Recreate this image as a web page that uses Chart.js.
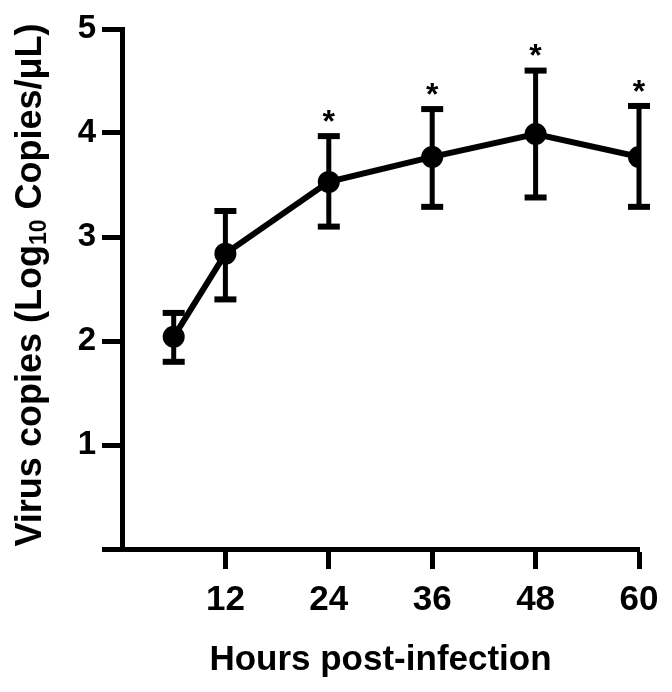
<!DOCTYPE html>
<html>
<head>
<meta charset="utf-8">
<script src="https://cdn.jsdelivr.net/npm/chart.js@4.4.1/dist/chart.umd.min.js"></script>
<style>
html,body{margin:0;padding:0;background:#fff;}
#wrap{width:672px;height:692px;}
</style>
</head>
<body>
<div id="wrap"><canvas id="virusChart"></canvas></div>
<script>
// hours post-infection and mean virus copies (log10 copies/uL)
let hours = [6, 12, 24, 36, 48, 60];
let meanCopies = [2.04, 2.84, 3.53, 3.77, 3.99, 3.77];
let upperCopies = [2.27, 3.25, 3.97, 4.23, 4.60, 4.26];
let lowerCopies = [1.80, 2.40, 3.10, 3.29, 3.38, 3.29];
let significant = [false, false, true, true, true, true];
let xTicks = [12, 24, 36, 48, 60];
let yTicks = [0, 1, 2, 3, 4, 5];

let fontName = "'Liberation Sans', Arial, sans-serif";

/* error bars + asterisks */
let errorBars = {
  id: "errorBars",
  afterDatasetsDraw(chart){
    let ctx = chart.ctx;
    let x = chart.scales.x, y = chart.scales.y;
    ctx.save();
    ctx.fillStyle = "#000";
    hours.forEach((h, i)=>{
      let px = x.getPixelForValue(h);
      let top = y.getPixelForValue(upperCopies[i]);
      let bot = y.getPixelForValue(lowerCopies[i]);
      ctx.fillRect(px - 2.5, top, 5, bot - top);
      ctx.fillRect(px - 11, top - 3, 22, 6);
      ctx.fillRect(px - 11, bot - 3, 22, 6);
      if(significant[i]){
        ctx.font = "bold 32px " + fontName;
        ctx.textAlign = "center";
        ctx.textBaseline = "middle";
        ctx.fillText("*", px, top - 13);
      }
    });
    ctx.restore();
  }
};

/* rotated y title with subscript */
let yTitle = {
  id: "yTitle",
  afterDraw(chart){
    let ctx = chart.ctx;
    let p1 = "Virus copies (Log", sub = "10", p2 = " Copies/\u03BCL)";
    let big = "bold 36px " + fontName, small = "bold 23px " + fontName;
    ctx.save();
    ctx.translate(31, 285);
    ctx.rotate(-Math.PI/2);
    ctx.fillStyle = "#000";
    ctx.textBaseline = "middle";
    ctx.textAlign = "left";
    ctx.font = big;
    let w1 = ctx.measureText(p1).width, w3 = ctx.measureText(p2).width;
    ctx.font = small;
    let w2 = ctx.measureText(sub).width;
    let sx = -(w1 + w2 + w3)/2;
    ctx.font = big;
    ctx.fillText(p1, sx, 0);
    ctx.font = small;
    ctx.fillText(sub, sx + w1, 9);
    ctx.font = big;
    ctx.fillText(p2, sx + w1 + w2, 0);
    ctx.restore();
  }
};

new Chart(document.getElementById("virusChart"), {
  type: "line",
  data: {
    datasets: [{
      data: hours.map((h, i)=>({x: h, y: meanCopies[i]})),
      borderColor: "#000",
      backgroundColor: "#000",
      borderWidth: 6,
      pointRadius: 11,
      pointBackgroundColor: "#000",
      pointBorderWidth: 0,
      tension: 0
    }]
  },
  options: {
    responsive: true,
    maintainAspectRatio: false,
    animation: false,
    layout: {padding: {top: 29, right: 33, left: 0, bottom: 0}},
    plugins: {legend: {display: false}, tooltip: {enabled: false}},
    scales: {
      x: {
        type: "linear",
        min: 0, max: 60,
        afterBuildTicks: s=>{ s.ticks = xTicks.map(v=>({value: v})); },
        afterFit: s=>{ s.height = 143; },
        grid: {drawOnChartArea: false, drawTicks: true, tickLength: 20, tickWidth: 5, tickColor: "#000"},
        border: {display: true, color: "#000", width: 5},
        ticks: {color: "#000", font: {family: fontName, size: 35, weight: "bold"}, padding: 10, maxRotation: 0},
        title: {display: true, text: "Hours post-infection", color: "#000",
                font: {family: fontName, size: 35, weight: "bold"}, padding: {top: 0, bottom: 11}}
      },
      y: {
        min: 0, max: 5,
        afterBuildTicks: s=>{ s.ticks = yTicks.map(v=>({value: v})); },
        afterFit: s=>{ s.width = 122; },
        grid: {drawOnChartArea: false, drawTicks: true, tickLength: 20, tickWidth: 5, tickColor: "#000"},
        border: {display: true, color: "#000", width: 5},
        ticks: {color: "#000", font: {family: fontName, size: 33, weight: "bold"}, padding: 6,
                callback: v=> v === 0 ? "" : v}
      }
    }
  },
  plugins: [errorBars, yTitle]
});
</script>
</body>
</html>
